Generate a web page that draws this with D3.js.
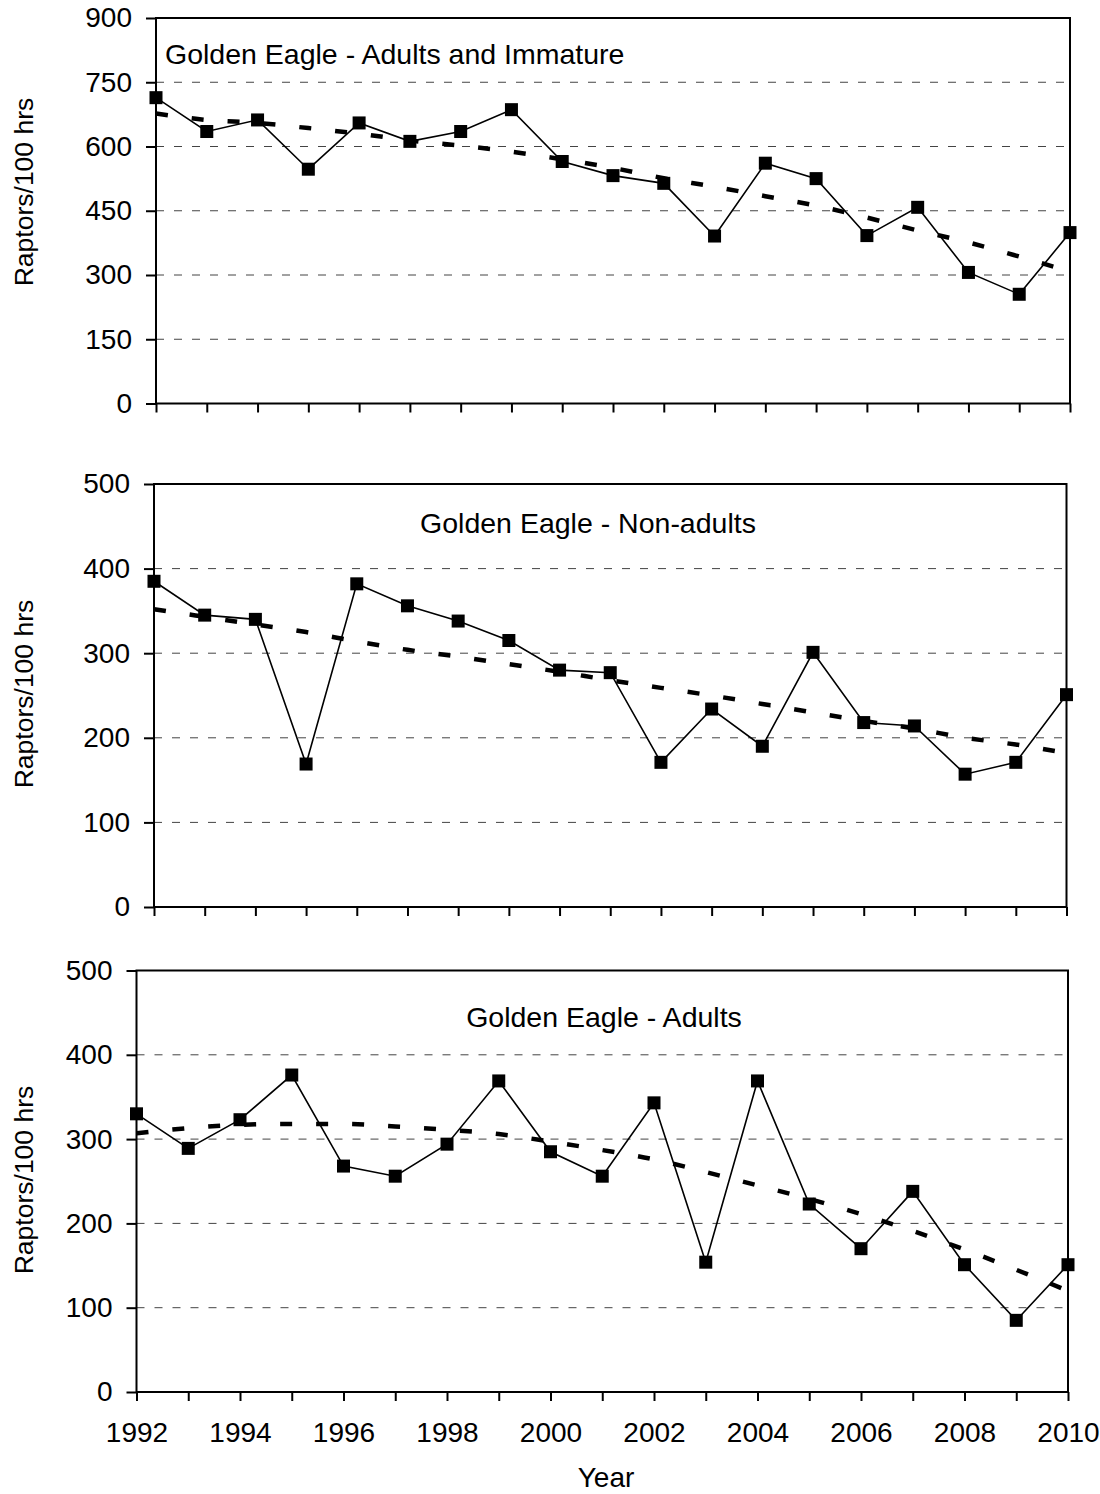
<!DOCTYPE html>
<html>
<head>
<meta charset="utf-8">
<script src="https://cdn.jsdelivr.net/npm/d3@7"></script>
<style>
  body { margin: 0; background: #fff; }
  svg { display: block; font-family: "Liberation Sans", Arial, sans-serif; }
</style>
</head>
<body>
<svg id="chart" width="1100" height="1494"></svg>
<script>
// ---------------- DATA ----------------
const years = [1992,1993,1994,1995,1996,1997,1998,1999,2000,2001,2002,2003,2004,2005,2006,2007,2008,2009,2010];
const xTickLabels = ["1992","1994","1996","1998","2000","2002","2004","2006","2008","2010"];

const titles = ["Golden Eagle - Adults and Immature", "Golden Eagle - Non-adults", "Golden Eagle - Adults"];
const yAxisTitle = "Raptors/100 hrs";
const xAxisTitle = "Year";

const yTicksAll = [0,150,300,450,600,750,900];
const yTicksSub = [0,100,200,300,400,500];

const adultsImmature      = [714,635,662,547,655,612,635,686,565,532,514,391,561,525,392,458,306,255,399];
const adultsImmatureTrend = [677,662,655,643,630,614,602,588,570,550,526,506,484,462,434,404,376,343,308];

const nonAdults      = [385,345,340,169,382,356,338,315,280,277,171,234,190,301,218,214,157,171,251];
const nonAdultsTrend = [352,343,334,325,314,304,296,287,278,268,259,250,240,230,220,211,200,192,182];

const adults      = [330,289,323,376,268,256,294,369,285,256,343,154,369,223,170,238,151,85,151];
const adultsTrend = [307,313,317,318,318,315,311,306,297,287,276,261,245,229,211,191,169,145,120];

// ---------------- LAYOUT ----------------
const panels = [
  { values: adultsImmature, trend: adultsImmatureTrend, ticks: yTicksAll, title: titles[0],
    left: 156, right: 1070, top: 18, bottom: 403.5, titleX: 165, titleY: 64, titleAnchor: "start",
    yTitleCenter: 192, xLabels: false },
  { values: nonAdults, trend: nonAdultsTrend, ticks: yTicksSub, title: titles[1],
    left: 154, right: 1066.5, top: 484, bottom: 907, titleX: 588, titleY: 533, titleAnchor: "middle",
    yTitleCenter: 694, xLabels: false },
  { values: adults, trend: adultsTrend, ticks: yTicksSub, title: titles[2],
    left: 136.5, right: 1068, top: 970.5, bottom: 1392, titleX: 604, titleY: 1027, titleAnchor: "middle",
    yTitleCenter: 1180, xLabels: true }
];

const FONT = "'Liberation Sans', Arial, sans-serif";
const svg = d3.select("#chart");

panels.forEach(p => {
  const x = d3.scaleLinear().domain([years[0], years[years.length - 1]]).range([p.left, p.right]);
  const y = d3.scaleLinear().domain([0, d3.max(p.ticks)]).range([p.bottom, p.top]);
  const g = svg.append("g");

  // gridlines
  g.selectAll("line.grid")
    .data(p.ticks.filter(t => t > 0 && t < d3.max(p.ticks)))
    .join("line")
    .attr("class", "grid")
    .attr("x1", p.left).attr("x2", p.right)
    .attr("y1", d => y(d)).attr("y2", d => y(d))
    .attr("stroke", "#444").attr("stroke-width", 1)
    .attr("stroke-dasharray", "8,10");

  // trend line
  const trendLine = d3.line().x((d, i) => x(years[i])).y(d => y(d)).curve(d3.curveMonotoneX);
  g.append("path")
    .datum(p.trend)
    .attr("d", trendLine)
    .attr("fill", "none")
    .attr("stroke", "#000")
    .attr("stroke-width", 4.5)
    .attr("stroke-dasharray", "12,24");

  // series line
  const line = d3.line().x((d, i) => x(years[i])).y(d => y(d));
  g.append("path")
    .datum(p.values)
    .attr("d", line)
    .attr("fill", "none")
    .attr("stroke", "#000")
    .attr("stroke-width", 1.6);

  // markers
  const ms = 13;
  g.selectAll("rect.mk")
    .data(p.values)
    .join("rect")
    .attr("class", "mk")
    .attr("x", (d, i) => x(years[i]) - ms / 2)
    .attr("y", d => y(d) - ms / 2)
    .attr("width", ms).attr("height", ms)
    .attr("fill", "#000");

  // frame
  g.append("rect")
    .attr("x", p.left).attr("y", p.top)
    .attr("width", p.right - p.left).attr("height", p.bottom - p.top)
    .attr("fill", "none").attr("stroke", "#000").attr("stroke-width", 2);

  // y axis
  const yAxis = d3.axisLeft(y).tickValues(p.ticks).tickSize(10).tickSizeOuter(0).tickPadding(14);
  const ya = g.append("g").attr("transform", `translate(${p.left},0)`).call(yAxis);
  ya.select(".domain").remove();
  ya.selectAll(".tick line").attr("stroke", "#000").attr("stroke-width", 2);
  ya.selectAll(".tick text").attr("font-size", 28).attr("fill", "#000").attr("font-family", FONT);

  // x axis
  const xAxis = d3.axisBottom(x).tickValues(years).tickSize(9).tickSizeOuter(0).tickPadding(21)
    .tickFormat(d => p.xLabels && xTickLabels.includes(String(d)) ? String(d) : "");
  const xa = g.append("g").attr("transform", `translate(0,${p.bottom})`).call(xAxis);
  xa.select(".domain").remove();
  xa.selectAll(".tick line").attr("stroke", "#000").attr("stroke-width", 2);
  xa.selectAll(".tick text").attr("font-size", 28).attr("fill", "#000").attr("font-family", FONT);

  // title
  g.append("text")
    .attr("x", p.titleX).attr("y", p.titleY)
    .attr("text-anchor", p.titleAnchor)
    .attr("font-size", 28.5).attr("fill", "#000")
    .text(p.title);

  // y axis title
  g.append("text")
    .attr("transform", `translate(33,${p.yTitleCenter}) rotate(-90)`)
    .attr("text-anchor", "middle")
    .attr("font-size", 26.5).attr("fill", "#000")
    .text(yAxisTitle);
});

// x axis title
svg.append("text")
  .attr("x", 606).attr("y", 1487)
  .attr("text-anchor", "middle")
  .attr("font-size", 28).attr("fill", "#000")
  .text(xAxisTitle);
</script>
</body>
</html>
